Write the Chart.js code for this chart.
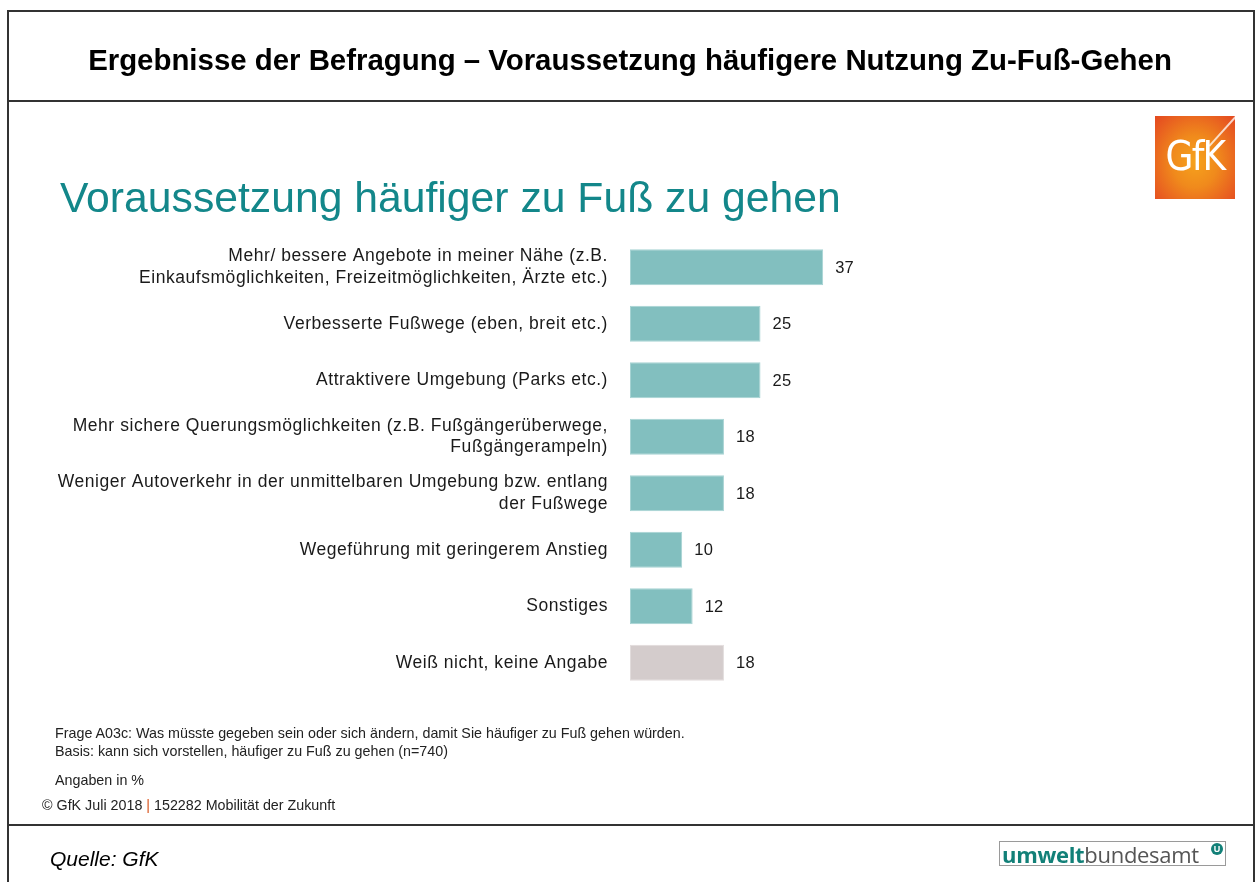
<!DOCTYPE html>
<html lang="de">
<head>
<meta charset="utf-8">
<script src="https://cdn.jsdelivr.net/npm/chart.js@4.4.1/dist/chart.umd.min.js"></script>
<style>
  html, body { margin:0; padding:0; background:#fff; }
  #page { position:relative; width:1258px; height:882px; overflow:hidden; font-family:"Liberation Sans", Arial, sans-serif; color:#111; }
  #page canvas { position:absolute; left:0; top:0; }
  .t { position:absolute; white-space:nowrap; line-height:1; }
  .hl { position:absolute; background:#333; }
  #gfk { position:absolute; left:1155px; top:116px; width:80px; height:83px;
         background: radial-gradient(ellipse at 50% 55%, #f6a21c 0%, #f08a1c 40%, #e85d20 80%, #e4481f 100%); overflow:hidden; }
  #gfk span { position:absolute; left:0; width:80px; top:20px; text-align:center; color:#fff; font-family:"DejaVu Sans", sans-serif; font-weight:400; font-size:40px; letter-spacing:-2px; line-height:1; transform:scaleX(0.9); }
  #gfk i { position:absolute; right:-6px; top:-4px; width:2px; height:46px; background:rgba(255,255,255,0.75); transform:rotate(42deg); transform-origin:top; }
  #uba { position:absolute; left:999px; top:841px; width:227px; height:25px; border:1px solid #9a9a9a; box-sizing:border-box; }
  #uba .w { position:absolute; left:2px; top:1px; font-size:22px; line-height:1; font-family:"Open Sans","Liberation Sans",sans-serif; letter-spacing:-0.3px; }
  #uba .w b { color:#128078; font-weight:700; }
  #uba .w span { color:#555; font-weight:400; }
  #uba .c { position:absolute; left:211px; top:1px; width:12px; height:12px; border-radius:50%; background:#128078; color:#fff; font-size:9px; font-weight:bold; text-align:center; line-height:12px; }
  .fn { font-size:14.3px; color:#222; }
</style>
</head>
<body>
<div id="page">
  <canvas id="chart" width="1258" height="882"></canvas>

  <!-- frame -->
  <div class="hl" style="left:7px; top:10px; width:1247px; height:1.5px;"></div>
  <div class="hl" style="left:7px; top:100px; width:1247px; height:1.5px;"></div>
  <div class="hl" style="left:7px; top:824px; width:1247px; height:1.5px;"></div>
  <div class="hl" style="left:7px; top:10px; width:1.5px; height:872px;"></div>
  <div class="hl" style="left:1253px; top:10px; width:1.5px; height:872px;"></div>

  <div class="t" id="title" style="left:0; width:1260px; text-align:center; top:45px; font-size:29.4px; font-weight:bold; color:#000;">Ergebnisse der Befragung – Voraussetzung häufigere Nutzung Zu-Fuß-Gehen</div>
  <div class="t" id="heading" style="left:60px; top:176px; font-size:42.7px; color:#13878a;">Voraussetzung häufiger zu Fuß zu gehen</div>

  <div id="gfk"><i></i><span>GfK</span></div>

  <div class="t fn" style="left:55px; top:726px;">Frage A03c: Was müsste gegeben sein oder sich ändern, damit Sie häufiger zu Fuß gehen würden.</div>
  <div class="t fn" style="left:55px; top:744px;">Basis: kann sich vorstellen, häufiger zu Fuß zu gehen (n=740)</div>
  <div class="t fn" style="left:55px; top:773px;">Angaben in %</div>
  <div class="t fn" style="left:42px; top:798px;">© GfK Juli 2018 <span style="color:#d9541e;">|</span> 152282 Mobilität der Zukunft</div>
  <div class="t" style="left:50px; top:848px; font-size:21px; font-style:italic; color:#000;">Quelle: GfK</div>

  <div id="uba"><div class="w"><b>umwelt</b><span>bundesamt</span></div><div class="c">U</div></div>
</div>

<script>
// ---- data ----
const categories = [
  ["Mehr/ bessere Angebote in meiner Nähe (z.B.", "Einkaufsmöglichkeiten, Freizeitmöglichkeiten, Ärzte etc.)"],
  "Verbesserte Fußwege (eben, breit etc.)",
  "Attraktivere Umgebung (Parks etc.)",
  ["Mehr sichere Querungsmöglichkeiten (z.B. Fußgängerüberwege,", "Fußgängerampeln)"],
  ["Weniger Autoverkehr in der unmittelbaren Umgebung bzw. entlang", "der Fußwege"],
  "Wegeführung mit geringerem Anstieg",
  "Sonstiges",
  "Weiß nicht, keine Angabe"
];
const values = [37, 25, 25, 18, 18, 10, 12, 18];
const isNoAnswer = [false, false, false, false, false, false, false, true];

const TEAL = "#82bfbf";
const GREY = "#d4cccc";

const letterSpacingPlugin = {
  id: "letterSpacing",
  beforeDraw(chart) { chart.ctx.letterSpacing = "0.55px"; },
  afterDraw(chart) { chart.ctx.letterSpacing = "0px"; }
};

const valueLabels = {
  id: "valueLabels",
  afterDatasetsDraw(chart) {
    const ctx = chart.ctx;
    const meta = chart.getDatasetMeta(0);
    ctx.save();
    ctx.letterSpacing = "0.3px";
    ctx.font = "16.5px 'Liberation Sans', Arial, sans-serif";
    ctx.fillStyle = "#1a1a1a";
    ctx.textAlign = "left";
    ctx.textBaseline = "middle";
    meta.data.forEach((bar, i) => {
      ctx.fillText(String(values[i]), bar.x + 12, bar.y + 1);
    });
    ctx.restore();
  }
};

new Chart(document.getElementById("chart"), {
  type: "bar",
  data: {
    labels: categories,
    datasets: [{
      data: values,
      backgroundColor: isNoAnswer.map(g => g ? GREY : TEAL),
      borderColor: isNoAnswer.map(g => g ? "#e2dcdc" : "#a6d3d3"),
      borderWidth: 1,
      borderSkipped: false,
      barPercentage: 0.64,
      categoryPercentage: 1.0
    }]
  },
  options: {
    indexAxis: "y",
    responsive: false,
    animation: false,
    layout: { padding: { left: 0, right: 106, top: 239, bottom: 191 } },
    plugins: { legend: { display: false }, tooltip: { enabled: false } },
    scales: {
      x: { display: false, min: 0, max: 100 },
      y: {
        afterFit(scale) { scale.width = 630; },
        grid: { display: false, drawTicks: false },
        border: { display: false },
        ticks: {
          padding: 22,
          color: "#1a1a1a",
          font: { family: "'Liberation Sans', Arial, sans-serif", size: 17.5, lineHeight: 1.24 }
        }
      }
    }
  },
  plugins: [letterSpacingPlugin, valueLabels]
});
</script>
</body>
</html>
